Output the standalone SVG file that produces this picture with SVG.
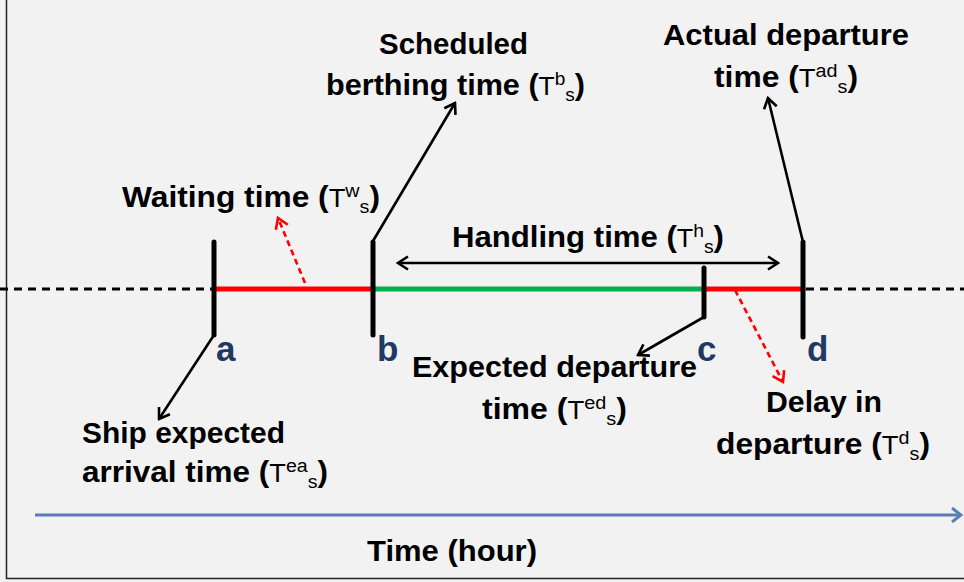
<svg xmlns="http://www.w3.org/2000/svg" width="964" height="582" viewBox="0 0 964 582">
<style>
.lbl{font-family:"Liberation Sans",Arial,sans-serif;font-weight:bold;font-size:29px;fill:#000}
.t{font-weight:normal;font-size:25px}
.sp{font-weight:normal;font-size:18px}
.ltr{font-family:"Liberation Sans",Arial,sans-serif;font-weight:bold;font-size:35px;fill:#1f3864}
.tick{stroke:#000;stroke-width:5;stroke-linecap:round;fill:none}
.lead{stroke:#000;stroke-width:2.6;fill:none}
.red-dash{stroke:#ff0000;stroke-width:2.6;stroke-dasharray:6 4;fill:none}
</style>
<defs>
<marker id="ah" viewBox="-13 -8 15 16" refX="0" refY="0" markerWidth="15" markerHeight="16" markerUnits="userSpaceOnUse" orient="auto-start-reverse">
<path d="M-10,-6.5 L0,0 L-10,6.5" fill="none" stroke="#000" stroke-width="2.6"/>
</marker>
<marker id="ahr" viewBox="-13 -8 15 16" refX="0" refY="0" markerWidth="15" markerHeight="16" markerUnits="userSpaceOnUse" orient="auto">
<path d="M-10,-6.5 L0,0 L-10,6.5" fill="none" stroke="#ff0000" stroke-width="2.6"/>
</marker>
<marker id="ahb" viewBox="-13 -8 15 16" refX="0" refY="0" markerWidth="15" markerHeight="16" markerUnits="userSpaceOnUse" orient="auto">
<path d="M-9,-7 L0,0 L-9,7" fill="none" stroke="#5b7db5" stroke-width="3"/>
</marker>
</defs>
<rect x="0" y="0" width="964" height="582" fill="#f2f2f2"/>
<path d="M6.5,0 V578.5 H964" fill="none" stroke="#222" stroke-width="1.5"/>

<g id="connectors">
<line x1="0" y1="289" x2="214" y2="289" stroke="#000" stroke-width="3" stroke-dasharray="8 6"/>
<line x1="806" y1="289" x2="964" y2="289" stroke="#000" stroke-width="3" stroke-dasharray="8 6"/>
<line x1="214" y1="289" x2="373" y2="289" stroke="#ff0000" stroke-width="5"/>
<line x1="373" y1="289" x2="704" y2="289" stroke="#00b050" stroke-width="5" stroke-linecap="round"/>
<line x1="704" y1="289" x2="803" y2="289" stroke="#ff0000" stroke-width="5" stroke-linecap="round"/>
<line class="lead" x1="373" y1="241" x2="455" y2="103" marker-end="url(#ah)"/>
<line class="lead" x1="214" y1="335" x2="159" y2="419" marker-end="url(#ah)"/>
<line class="lead" x1="704" y1="317" x2="638" y2="355" marker-end="url(#ah)"/>
<line class="lead" x1="803" y1="242" x2="768" y2="98" marker-end="url(#ah)"/>
<line class="lead" x1="398" y1="263" x2="778" y2="263" marker-start="url(#ah)" marker-end="url(#ah)"/>
<line class="red-dash" x1="305" y1="283" x2="278" y2="218" marker-end="url(#ahr)"/>
<line class="red-dash" x1="735" y1="290" x2="783" y2="382" marker-end="url(#ahr)"/>
<line x1="35" y1="515" x2="961" y2="515" stroke="#5b7db5" stroke-width="3" marker-end="url(#ahb)"/>
</g>

<g id="tick-a"><line class="tick" x1="214" y1="242" x2="214" y2="335"/><text class="ltr" x="216" y="361">a</text></g>
<g id="tick-b"><line class="tick" x1="373" y1="242" x2="373" y2="335"/><text class="ltr" x="377" y="361">b</text></g>
<g id="tick-c"><line class="tick" x1="704" y1="268" x2="704" y2="317"/><text class="ltr" x="697" y="361">c</text></g>
<g id="tick-d"><line class="tick" x1="803" y1="242" x2="803" y2="337"/><text class="ltr" x="807" y="361">d</text></g>

<g id="scheduled-berthing">
<text class="lbl" x="379" y="54" textLength="149" lengthAdjust="spacingAndGlyphs">Scheduled</text>
<text class="lbl" x="326" y="95" textLength="259" lengthAdjust="spacingAndGlyphs">berthing time (<tspan class="t">T</tspan><tspan class="sp" dy="-10">b</tspan><tspan class="sp" dy="16">s</tspan><tspan dy="-6">)</tspan></text>
</g>
<g id="actual-departure">
<text class="lbl" x="663" y="45" textLength="246" lengthAdjust="spacingAndGlyphs">Actual departure</text>
<text class="lbl" x="714" y="87" textLength="144" lengthAdjust="spacingAndGlyphs">time (<tspan class="t">T</tspan><tspan class="sp" dy="-10">ad</tspan><tspan class="sp" dy="16">s</tspan><tspan dy="-6">)</tspan></text>
</g>
<g id="waiting-time">
<text class="lbl" x="122" y="207" textLength="258" lengthAdjust="spacingAndGlyphs">Waiting time (<tspan class="t">T</tspan><tspan class="sp" dy="-10">w</tspan><tspan class="sp" dy="16">s</tspan><tspan dy="-6">)</tspan></text>
</g>
<g id="handling-time">
<text class="lbl" x="452" y="247" textLength="272" lengthAdjust="spacingAndGlyphs">Handling time (<tspan class="t">T</tspan><tspan class="sp" dy="-10">h</tspan><tspan class="sp" dy="16">s</tspan><tspan dy="-6">)</tspan></text>
</g>
<g id="expected-departure">
<text class="lbl" x="412" y="377" textLength="285" lengthAdjust="spacingAndGlyphs">Expected departure</text>
<text class="lbl" x="482" y="419" textLength="145" lengthAdjust="spacingAndGlyphs">time (<tspan class="t">T</tspan><tspan class="sp" dy="-10">ed</tspan><tspan class="sp" dy="16">s</tspan><tspan dy="-6">)</tspan></text>
</g>
<g id="delay-departure">
<text class="lbl" x="766" y="412" textLength="116" lengthAdjust="spacingAndGlyphs">Delay in</text>
<text class="lbl" x="716" y="454" textLength="214" lengthAdjust="spacingAndGlyphs">departure (<tspan class="t">T</tspan><tspan class="sp" dy="-10">d</tspan><tspan class="sp" dy="16">s</tspan><tspan dy="-6">)</tspan></text>
</g>
<g id="ship-arrival">
<text class="lbl" x="82" y="443" textLength="203" lengthAdjust="spacingAndGlyphs">Ship expected</text>
<text class="lbl" x="82" y="482" textLength="246" lengthAdjust="spacingAndGlyphs">arrival time (<tspan class="t">T</tspan><tspan class="sp" dy="-10">ea</tspan><tspan class="sp" dy="16">s</tspan><tspan dy="-6">)</tspan></text>
</g>
<g id="time-axis-label">
<text class="lbl" x="367" y="561" textLength="170" lengthAdjust="spacingAndGlyphs">Time (hour)</text>
</g>
</svg>
